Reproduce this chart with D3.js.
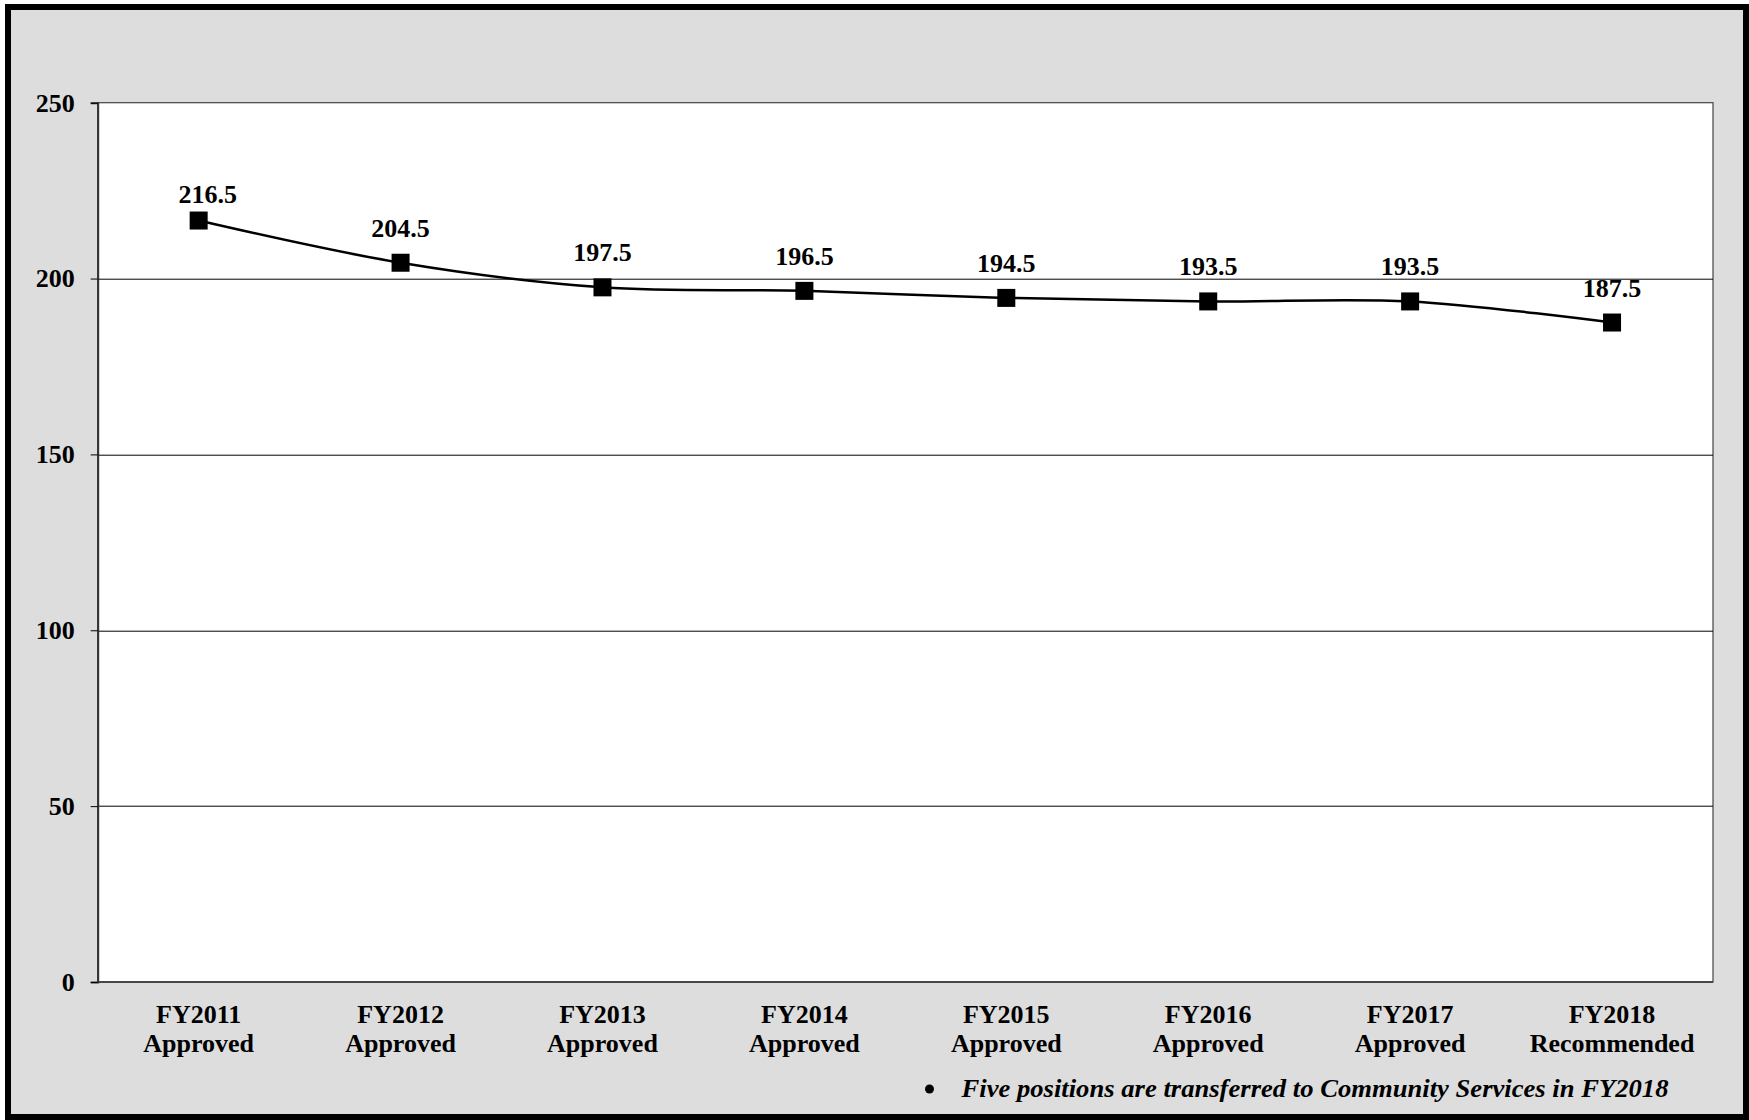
<!DOCTYPE html>
<html>
<head>
<meta charset="utf-8">
<script src="https://cdn.jsdelivr.net/npm/d3@7"></script>
<style>
  html, body { margin: 0; padding: 0; background: #fff; }
  svg { display: block; font-family: "Liberation Serif", "Times New Roman", serif; }
</style>
</head>
<body>
<div id="chart"></div>
<script>
// data
const years = ["FY2011", "FY2012", "FY2013", "FY2014", "FY2015", "FY2016", "FY2017", "FY2018"];
const stages = ["Approved", "Approved", "Approved", "Approved", "Approved", "Approved", "Approved", "Recommended"];
const positions = [216.5, 204.5, 197.5, 196.5, 194.5, 193.5, 193.5, 187.5];
const yTicks = [0, 50, 100, 150, 200, 250];
const footnote = "Five positions are transferred to Community Services in FY2018";

const W = 1749, H = 1120;
const margin = { top: 102.7, right: 36, bottom: 138, left: 97.7 };
const width = W - margin.left - margin.right;
const height = H - margin.top - margin.bottom;

const svg = d3.select("#chart")
    .append("svg")
    .attr("width", W)
    .attr("height", H);

// grey page with a heavy black frame
svg.append("rect")
    .attr("x", 8).attr("y", 7)
    .attr("width", W - 11).attr("height", H - 10)
    .attr("fill", "#dddddd")
    .attr("stroke", "#000")
    .attr("stroke-width", 6);

const g = svg.append("g")
    .attr("transform", `translate(${margin.left},${margin.top})`);

const x = d3.scaleBand()
    .domain(years)
    .range([0, width])
    .padding(0);

const y = d3.scaleLinear()
    .domain([0, 250])
    .range([height, 0]);

const cx = d => x(d) + x.bandwidth() / 2;

// plot area
g.append("rect")
    .attr("width", width)
    .attr("height", height)
    .attr("fill", "#fff")
    .attr("stroke", "#444")
    .attr("stroke-width", 1.2);

// gridlines
g.append("g")
    .selectAll("line")
    .data(yTicks.filter(t => t > 0 && t < 250))
    .enter()
    .append("line")
    .attr("x1", 0)
    .attr("x2", width)
    .attr("y1", d => Math.round(y(d)) + 0.5)
    .attr("y2", d => Math.round(y(d)) + 0.5)
    .attr("stroke", "#000")
    .attr("stroke-width", 1);

// Y axis
const yAxis = g.append("g")
    .call(d3.axisLeft(y).tickValues(yTicks).tickSize(7).tickPadding(16));
yAxis.select(".domain").attr("stroke", "#333").attr("stroke-width", 2);
yAxis.selectAll(".tick line").attr("stroke", "#000");
yAxis.selectAll(".tick text")
    .attr("fill", "#000")
    .style("font-family", "'Liberation Serif', serif")
    .style("font-size", "26px")
    .style("font-weight", "bold");

// bottom axis line
g.append("line")
    .attr("x1", 0).attr("x2", width)
    .attr("y1", height).attr("y2", height)
    .attr("stroke", "#333")
    .attr("stroke-width", 1.5);

// X category labels
const xl = g.append("g")
    .selectAll("text")
    .data(years)
    .enter()
    .append("text")
    .attr("text-anchor", "middle")
    .attr("font-size", "26px")
    .attr("font-weight", "bold")
    .attr("fill", "#000");
xl.append("tspan")
    .attr("x", d => cx(d))
    .attr("y", height + 41)
    .text(d => d);
xl.append("tspan")
    .attr("x", d => cx(d))
    .attr("y", height + 70)
    .text((d, i) => stages[i]);

// smoothed line like excel
const line = d3.line()
    .x((d, i) => cx(years[i]))
    .y(d => y(d))
    .curve(d3.curveCardinal.tension(0));

g.append("path")
    .datum(positions)
    .attr("fill", "none")
    .attr("stroke", "#000")
    .attr("stroke-width", 2.5)
    .attr("d", line);

// square markers
g.append("g")
    .selectAll("rect")
    .data(positions)
    .enter()
    .append("rect")
    .attr("x", (d, i) => cx(years[i]) - 9)
    .attr("y", d => y(d) - 9)
    .attr("width", 18)
    .attr("height", 18)
    .attr("fill", "#000");

// value labels (first one was nudged in the original)
g.append("g")
    .selectAll("text")
    .data(positions)
    .enter()
    .append("text")
    .attr("x", (d, i) => cx(years[i]) + (i === 0 ? 9 : 0))
    .attr("y", (d, i) => y(d) - (i === 0 ? 17.5 : 26))
    .attr("text-anchor", "middle")
    .attr("font-size", "26px")
    .attr("font-weight", "bold")
    .attr("fill", "#000")
    .text(d => d3.format(".1f")(d));

// footnote
svg.append("circle")
    .attr("cx", 929.5)
    .attr("cy", 1089)
    .attr("r", 4.5)
    .attr("fill", "#000");

svg.append("text")
    .attr("x", 961.5)
    .attr("y", 1097)
    .attr("font-size", "26px")
    .attr("font-weight", "bold")
    .attr("font-style", "italic")
    .attr("textLength", 707)
    .attr("lengthAdjust", "spacingAndGlyphs")
    .attr("fill", "#000")
    .text(footnote);
</script>
</body>
</html>
